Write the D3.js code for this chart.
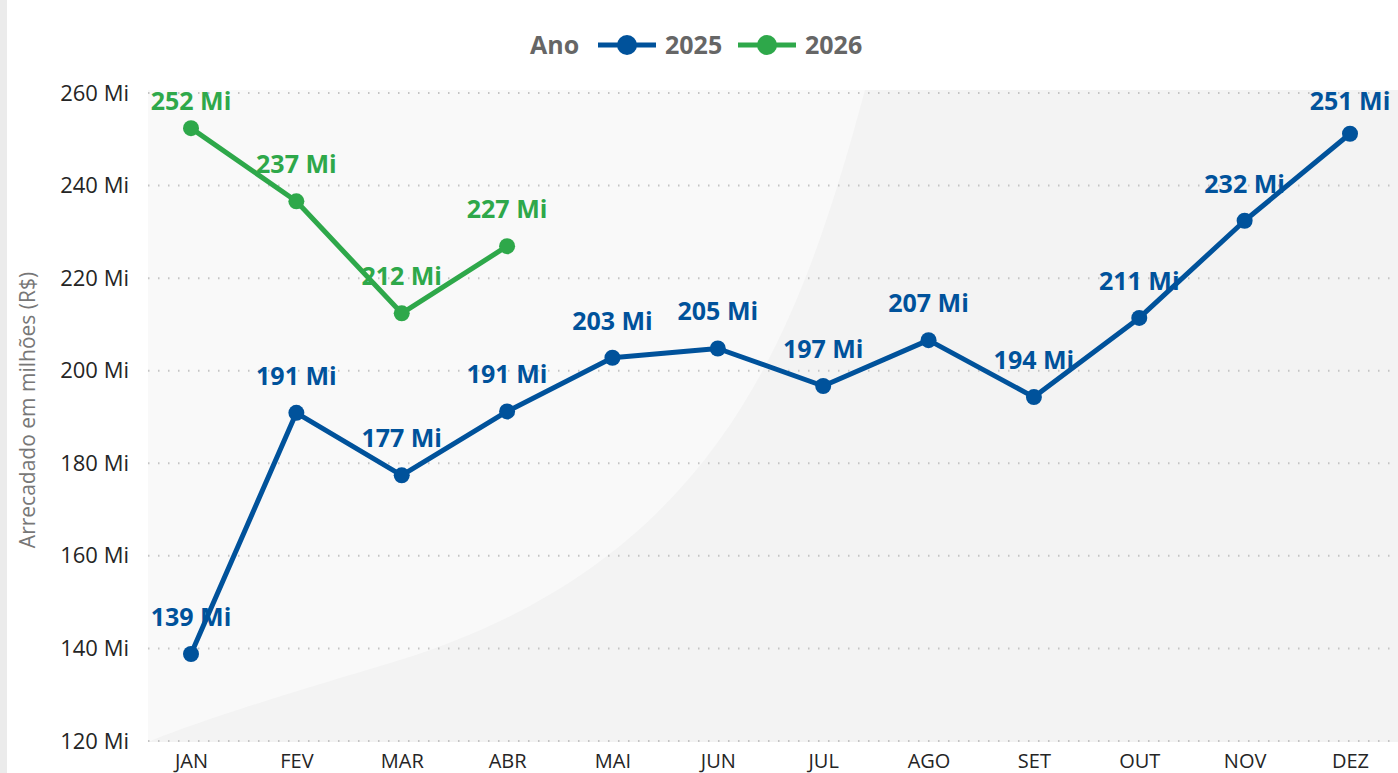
<!DOCTYPE html>
<html>
<head>
<meta charset="utf-8">
<script src="https://cdn.jsdelivr.net/npm/d3@7"></script>
<style>
  body { margin: 0; background: #fff; font-family: "Open Sans", "Noto Sans", sans-serif; }
  svg { display: block; }
</style>
</head>
<body>
<script>
// dados
var meses = ["JAN", "FEV", "MAR", "ABR", "MAI", "JUN", "JUL", "AGO", "SET", "OUT", "NOV", "DEZ"];
var valores2025 = [138.8, 190.9, 177.4, 191.2, 202.8, 204.8, 196.7, 206.6, 194.3, 211.4, 232.4, 251.2];
var valores2026 = [252.4, 236.6, 212.4, 226.9];
var yTicks = [120, 140, 160, 180, 200, 220, 240, 260];

var cor2025 = "#00529b",
    cor2026 = "#2ea84a";

var width = 1398, height = 773;
var margin = {top: 90, right: 0, bottom: 31, left: 148};

var svg = d3.select("body").append("svg")
    .attr("width", width)
    .attr("height", height);

// faixa cinza da esquerda
svg.append("rect")
    .attr("x", 0).attr("y", 0)
    .attr("width", 7).attr("height", height)
    .attr("fill", "#ebebeb");

var x = d3.scalePoint()
    .domain(meses)
    .range([191, 1350]);

var y = d3.scaleLinear()
    .domain([120, 260])
    .range([741, 93]);

// fundo da área de plotagem
svg.append("rect")
    .attr("x", margin.left).attr("y", margin.top)
    .attr("width", width - margin.left).attr("height", 742 - margin.top)
    .attr("fill", "#f3f3f3");

svg.append("path")
    .attr("d", "M" + margin.left + "," + margin.top +
      " L865," + margin.top +
      " C800,330 720,560 400,660" +
      " C300,690 200,720 " + margin.left + ",742 Z")
    .attr("fill", "#f9f9f9");

// linhas de grade pontilhadas
svg.append("g")
  .selectAll("line")
  .data(yTicks)
  .enter().append("line")
    .attr("x1", margin.left)
    .attr("x2", width)
    .attr("y1", function(d) { return y(d); })
    .attr("y2", function(d) { return y(d); })
    .attr("stroke", "#c4c4c4")
    .attr("stroke-width", 2)
    .attr("stroke-dasharray", "1.5,8.5");

// eixo Y
var yAxis = svg.append("g")
    .attr("transform", "translate(129,0)")
    .call(d3.axisLeft(y).tickValues(yTicks).tickSize(0).tickPadding(0)
      .tickFormat(function(d) { return d + " Mi"; }));
yAxis.select(".domain").remove();
yAxis.selectAll("text")
    .attr("font-family", "'Open Sans', 'Noto Sans', sans-serif")
    .attr("font-size", 22)
    .attr("fill", "#252525");

// eixo X
var xAxis = svg.append("g")
    .attr("transform", "translate(0,742)")
    .call(d3.axisBottom(x).tickSize(0).tickPadding(12));
xAxis.select(".domain").remove();
xAxis.selectAll("text")
    .attr("font-family", "'Open Sans', 'Noto Sans', sans-serif")
    .attr("font-size", 20)
    .attr("fill", "#252525");

// título do eixo Y
svg.append("text")
    .attr("transform", "translate(35,410) rotate(-90)")
    .attr("text-anchor", "middle")
    .attr("font-size", 21)
    .attr("fill", "#777")
    .text("Arrecadado em milhões (R$)");

var line = d3.line()
    .x(function(d, i) { return x(meses[i]); })
    .y(function(d) { return y(d); });

function drawSerie(valores, cor) {
  var g = svg.append("g");
  g.append("path")
      .datum(valores)
      .attr("d", line)
      .attr("fill", "none")
      .attr("stroke", cor)
      .attr("stroke-width", 5)
      .attr("stroke-linejoin", "round");
  g.selectAll("circle")
      .data(valores)
      .enter().append("circle")
      .attr("cx", function(d, i) { return x(meses[i]); })
      .attr("cy", function(d) { return y(d); })
      .attr("r", 8)
      .attr("fill", cor);
  g.selectAll("text")
      .data(valores)
      .enter().append("text")
      .attr("x", function(d, i) { return x(meses[i]); })
      .attr("y", function(d) { return Math.max(y(d) - 28, 110); })
      .attr("text-anchor", "middle")
      .attr("font-size", 25)
      .attr("font-weight", "bold")
      .attr("fill", cor)
      .text(function(d) { return Math.round(d) + " Mi"; });
}

drawSerie(valores2025, cor2025);
drawSerie(valores2026, cor2026);

// legenda
var leg = svg.append("g").attr("font-weight", "bold").attr("font-size", 25).attr("fill", "#666");
leg.append("text").attr("x", 530).attr("y", 54).text("Ano");
[{ano: "2025", cor: cor2025, x0: 598}, {ano: "2026", cor: cor2026, x0: 738}].forEach(function(l) {
  leg.append("line")
      .attr("x1", l.x0).attr("x2", l.x0 + 58)
      .attr("y1", 45).attr("y2", 45)
      .attr("stroke", l.cor).attr("stroke-width", 5);
  leg.append("circle")
      .attr("cx", l.x0 + 29).attr("cy", 45).attr("r", 10)
      .attr("fill", l.cor);
  leg.append("text").attr("x", l.x0 + 67).attr("y", 54).text(l.ano);
});
</script>
</body>
</html>
